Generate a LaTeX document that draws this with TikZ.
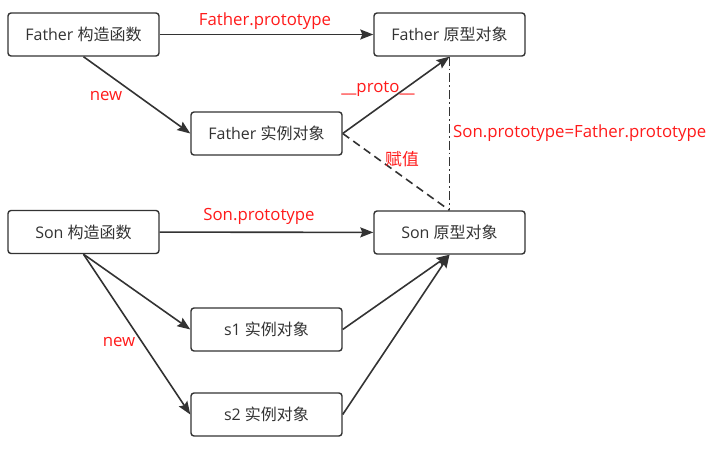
\documentclass[tikz,border=0pt]{standalone}
\usepackage{fontspec}
\setmainfont{Open Sans}
\newfontfamily\cjk{Noto Sans CJK SC}
\usetikzlibrary{arrows.meta, positioning}
\definecolor{linegray}{HTML}{333333}
\definecolor{labelred}{HTML}{FF1A1A}
\tikzset{
  objbox/.style={draw=linegray, line width=1.4pt, rounded corners=3pt, fill=white,
    minimum width=151pt, minimum height=43pt, inner sep=0pt, text=linegray,
    font=\fontsize{16}{19}\selectfont},
  link/.style={draw=linegray, line width=1.6pt, -{Stealth[length=13pt,width=10pt,inset=2pt]}},
  lbl/.style={text=labelred, inner sep=1pt, font=\fontsize{16.8}{19}\selectfont}
}
\begin{document}
\begin{tikzpicture}[x=1pt, y=-1pt]
\useasboundingbox (0,0) rectangle (715,449);
% boxes
\node (fctor) [objbox] at (83.5,34.5) {Father {\cjk 构造函数}};
\node (fproto) [objbox] at (449.5,34.5) {Father {\cjk 原型对象}};
\node (finst) [objbox] at (266.5,133.5) {Father {\cjk 实例对象}};
\node (sctor) [objbox] at (83.5,232) {Son {\cjk 构造函数}};
\node (sproto) [objbox] at (449.5,232.5) {Son {\cjk 原型对象}};
\node (sone) [objbox] at (266.5,329.5) {s1 {\cjk 实例对象}};
\node (stwo) [objbox] at (266.5,414.5) {s2 {\cjk 实例对象}};

% connectors
\draw[link] (fctor) -- (fproto);
\draw[link] (fctor.south) -- (finst.west);
\draw[link] (finst.east) -- (fproto.south);
\draw[draw=linegray, line width=1.6pt, dash pattern=on 8pt off 5pt] (finst.east) -- (sproto.north);
\draw[draw=linegray, line width=1.6pt, dash pattern=on 9pt off 3pt on 1.8pt off 3pt] (fproto.south) -- (sproto.north);
\draw[link] (sctor) -- (sproto);
\draw[link] (sctor.south) -- (sone.west);
\draw[link] (sctor.south) -- (stwo.west);
\draw[link] (sone.east) -- (sproto.south);
\draw[link] (stwo.east) -- (sproto.south);

% labels
\node (lfproto) [lbl] at (265,21) {Father.prototype};
\node (lfnew) [lbl] at (106,96) {new};
\node (lproto) [lbl] at (378,89) {\_\_proto\_\_};
\node (lassign) [lbl] at (402,159) {\cjk 赋值};
\node (leq) [lbl, anchor=west] at (452,133) {Son.prototype=Father.prototype};
\node (lsproto) [lbl] at (259,216) {Son.prototype};
\node (lsnew) [lbl] at (119,342) {new};
\end{tikzpicture}
\end{document}
